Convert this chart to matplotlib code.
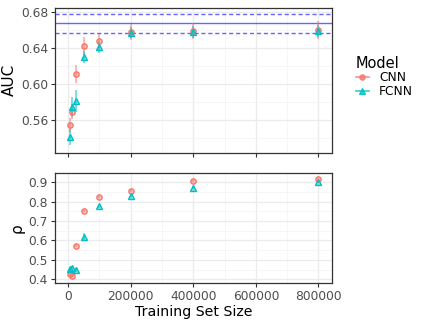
import numpy as np
import matplotlib
matplotlib.use('Agg')
import matplotlib.pyplot as plt
from matplotlib.ticker import MultipleLocator
from matplotlib.lines import Line2D

# Tamanhos do conjunto de treino
tamanhos = [6250, 12500, 25000, 50000, 100000, 200000, 400000, 800000]

# AUC (media e erro)
aucCnn = [0.554, 0.569, 0.611, 0.642, 0.648, 0.658, 0.659, 0.660]
aucCnnErr = [0.008, 0.008, 0.010, 0.010, 0.008, 0.009, 0.009, 0.010]
aucFcnn = [0.541, 0.574, 0.581, 0.630, 0.641, 0.657, 0.658, 0.659]
aucFcnnErr = [0.009, 0.011, 0.012, 0.007, 0.007, 0.006, 0.007, 0.007]

# rho (media e erro)
rhoCnn = [0.425, 0.418, 0.573, 0.750, 0.822, 0.856, 0.908, 0.918]
rhoCnnErr = [0.006, 0.006, 0.006, 0.005, 0.005, 0.005, 0.005, 0.005]
rhoFcnn = [0.455, 0.460, 0.448, 0.620, 0.775, 0.830, 0.871, 0.902]
rhoFcnnErr = [0.010, 0.010, 0.012, 0.018, 0.008, 0.007, 0.007, 0.006]

# Linha de referencia e faixa
refAuc = 0.668
refBaixo = 0.657
refAlto = 0.678

modelos = ['CNN', 'FCNN']
cores = ['#F8766D', '#00BFC4']
marcadores = ['o', '^']

def estiloPainel(ax):
  ax.set_facecolor('white')
  ax.grid(which='major', color='#EBEBEB', linewidth=0.9, zorder=0)
  ax.grid(which='minor', color='#F3F3F3', linewidth=0.5, zorder=0)
  ax.set_axisbelow(True)
  for s in ax.spines.values():
    s.set_color('#333333')
    s.set_linewidth(0.9)
  ax.tick_params(which='major', length=3, color='#333333', labelsize=8.8,
                 labelcolor='#4D4D4D', width=0.8, pad=2)
  ax.tick_params(which='minor', length=0)
  ax.xaxis.set_major_locator(MultipleLocator(200000))
  ax.xaxis.set_minor_locator(MultipleLocator(100000))
  ax.set_xlim(-42000, 842000)

def desenha(ax, medias, erros):
  for i in range(2):
    ax.errorbar(tamanhos, medias[i], yerr=erros[i], fmt='none',
                ecolor=cores[i], alpha=0.55, elinewidth=1.3, zorder=3)
    ax.plot(tamanhos, medias[i], linestyle='none', marker=marcadores[i],
            markersize=3.8, markeredgecolor=cores[i], markeredgewidth=1.0,
            markerfacecolor=cores[i] + '70', zorder=4)

fig = plt.figure(figsize=(4.23, 3.31), dpi=100)
ax1 = fig.add_axes([0.130, 0.538, 0.654, 0.439])
ax2 = fig.add_axes([0.130, 0.144, 0.654, 0.332])

# Painel do AUC
estiloPainel(ax1)
ax1.axhline(refAuc, color='blue', alpha=0.6, linewidth=1.0, zorder=2)
ax1.axhline(refBaixo, color='blue', alpha=0.6, linewidth=1.0, linestyle=(0, (3, 2)), zorder=2)
ax1.axhline(refAlto, color='blue', alpha=0.6, linewidth=1.0, linestyle=(0, (3, 2)), zorder=2)
desenha(ax1, [aucCnn, aucFcnn], [aucCnnErr, aucFcnnErr])
ax1.set_ylim(0.523, 0.685)
ax1.yaxis.set_minor_locator(MultipleLocator(0.02))
ax1.set_yticks([0.56, 0.60, 0.64, 0.68])
ax1.set_yticklabels(['0.56', '0.60', '0.64', '0.68'])
ax1.tick_params(axis='x', labelbottom=False)
ax1.set_ylabel('AUC', fontsize=11, color='black', labelpad=3)

# Painel do rho
estiloPainel(ax2)
desenha(ax2, [rhoCnn, rhoFcnn], [rhoCnnErr, rhoFcnnErr])
ax2.set_ylim(0.379, 0.945)
ax2.yaxis.set_major_locator(MultipleLocator(0.1))
ax2.yaxis.set_minor_locator(MultipleLocator(0.05))
ax2.set_xticks([0, 200000, 400000, 600000, 800000])
ax2.set_xticklabels(['0', '200000', '400000', '600000', '800000'])
ax2.set_ylabel('ρ', fontsize=11, color='black', labelpad=3)
ax2.set_xlabel('Training Set Size', fontsize=10.2, color='black', labelpad=1)

# Legenda
handles = []
for i in range(2):
  handles.append(Line2D([0], [0], color=cores[i], alpha=0.8, linewidth=1.2,
                        marker=marcadores[i], markersize=3.8,
                        markeredgecolor=cores[i], markerfacecolor=cores[i] + '70'))
leg = fig.legend(handles, modelos, title='Model', loc='upper left',
                 bbox_to_anchor=(0.815, 0.865), frameon=False, fontsize=8.8,
                 title_fontsize=10.5, handlelength=1.1, handletextpad=0.8,
                 labelspacing=0.05)
leg._legend_box.align = 'left'

fig.savefig('out.png', dpi=100)
